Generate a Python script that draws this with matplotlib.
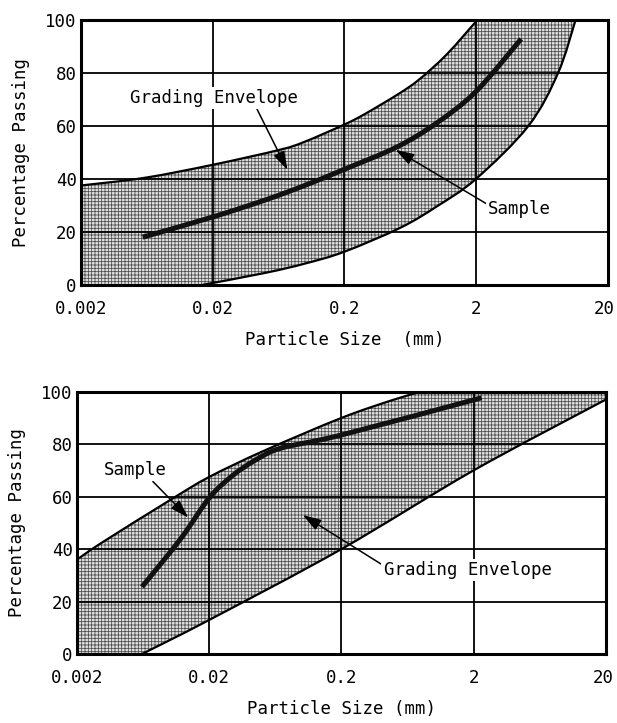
import matplotlib
matplotlib.use("Agg")
import matplotlib.pyplot as plt
from matplotlib.path import Path
from matplotlib.patches import PathPatch
import matplotlib.transforms as mtransforms
import numpy as np

plt.rcParams['font.family'] = ['DejaVu Sans Mono']
plt.rcParams['hatch.linewidth'] = 0.55

# ---- data: top chart ----
top_upper_x = [0.002, 0.0061, 0.02, 0.065, 0.1, 0.2, 0.287, 0.514, 0.74, 1.2, 2.05]
top_upper_y = [37.5, 40.4, 45.3, 51, 54, 60.5, 64.5, 72, 77.5, 87, 100]
top_lower_x = [0.0168, 0.05, 0.1, 0.2, 0.53, 1.0, 2.0, 5.0, 8.4, 11.4]
top_lower_y = [0, 4.5, 8, 12.5, 21.5, 29.5, 40, 60, 80, 100]
top_sample_x = [0.0059, 0.02, 0.05, 0.1, 0.2, 0.5, 1.0, 2.0, 4.4]
top_sample_y = [18, 25.6, 32, 37.5, 43.6, 52, 61, 73, 92.8]

# ---- data: bottom chart ----
bot_upper_x = [0.002, 0.00307, 0.0102, 0.02, 0.052, 0.2, 0.5, 0.8]
bot_upper_y = [36, 42.4, 58.8, 67.5, 77.5, 90, 97, 100]
bot_lower_x = [0.0062, 0.02, 0.2, 2.0, 20.0]
bot_lower_y = [0, 13, 40, 70, 97]
bot_sample_x = [0.0062, 0.0122, 0.02, 0.03, 0.045, 0.07, 0.2, 2.3]
bot_sample_y = [25.6, 44, 59.5, 68, 74, 78.5, 83.5, 97.7]

xticks = [0.002, 0.02, 0.2, 2, 20]
xticklabels = ["0.002", "0.02", "0.2", "2", "20"]
yticks = [0, 20, 40, 60, 80, 100]

FS = 12.5

fig = plt.figure(figsize=(6.17, 7.23), dpi=100)


def smooth_verts(xs, ys):
    """Cubic Bezier (Catmull-Rom) vertices through the read points, in log-x space."""
    P = np.column_stack([np.log10(xs), ys])
    n = len(P)
    verts = [P[0]]
    codes = [Path.MOVETO]
    for i in range(n - 1):
        p0 = P[max(i - 1, 0)]
        p1 = P[i]
        p2 = P[i + 1]
        p3 = P[min(i + 2, n - 1)]
        c1 = p1 + (p2 - p0) / 6.0
        c2 = p2 - (p3 - p1) / 6.0
        verts += [c1, c2, p2]
        codes += [Path.CURVE4] * 3
    V = np.array(verts)
    V[:, 0] = 10 ** V[:, 0]
    return V, codes


def curve_patch(xs, ys, **kw):
    V, C = smooth_verts(xs, ys)
    return PathPatch(Path(V, C), fill=False, **kw)


def make_axes(rect, ux, uy, lx, ly, sx, sy, corner, xlabel):
    ax = fig.add_axes(rect)
    ax.set_xscale('log')
    ax.set_xlim(0.002, 20)
    ax.set_ylim(0, 100)
    # envelope region: upper curve -> top-right corner(s) -> lower curve back -> bottom-left
    Vu, Cu = smooth_verts(ux, uy)
    Vl, Cl = smooth_verts(lx[::-1], ly[::-1])
    verts = list(Vu)
    codes = list(Cu)
    for c in corner:
        verts.append(c)
        codes.append(Path.LINETO)
    verts.append(Vl[0]); codes.append(Path.LINETO)
    verts += list(Vl[1:]); codes += list(Cl[1:])
    verts.append((0.002, 0)); codes.append(Path.LINETO)
    verts.append((0.002, 0)); codes.append(Path.CLOSEPOLY)
    ax.add_patch(PathPatch(Path(verts, codes), facecolor='#dedede',
                           edgecolor='#4a4a4a', hatch='+++++', linewidth=0,
                           zorder=1))
    ax.add_patch(curve_patch(ux, uy, edgecolor='black', lw=1.6, zorder=2))
    ax.add_patch(curve_patch(lx, ly, edgecolor='black', lw=1.6, zorder=2))
    ax.add_patch(curve_patch(sx, sy, edgecolor='#111111', lw=3.6,
                             capstyle='butt', zorder=3))
    ax.set_xticks(xticks)
    ax.set_xticklabels(xticklabels)
    ax.set_yticks(yticks)
    ax.xaxis.set_minor_locator(matplotlib.ticker.NullLocator())
    ax.tick_params(axis='both', length=0, labelsize=FS)
    ax.tick_params(axis='x', pad=11)
    ax.tick_params(axis='y', pad=3)
    ax.grid(True, color='black', lw=1.3)
    for s in ax.spines.values():
        s.set_linewidth(2.2)
    ax.set_xlabel(xlabel, fontsize=FS, labelpad=9)
    ax.set_ylabel("Percentage Passing", fontsize=FS, labelpad=11)
    # pull the last tick label slightly inward like the reference
    lab = ax.get_xticklabels()[-1]
    lab.set_transform(lab.get_transform() +
                      mtransforms.ScaledTranslation(-3 / 100, 0, fig.dpi_scale_trans))
    return ax


bbox = dict(facecolor='white', edgecolor='none', pad=1.5)
arrow = dict(arrowstyle='-|>,head_length=0.7,head_width=0.22', color='black',
             lw=1.1, mutation_scale=16, shrinkA=0, shrinkB=0)

ax1 = make_axes([0.131, 0.606, 0.854, 0.3665], top_upper_x, top_upper_y,
                top_lower_x, top_lower_y, top_sample_x, top_sample_y,
                [], "Particle Size  (mm)")
ax1.annotate("Grading Envelope", xy=(0.074, 43.4), xytext=(0.0205, 70.5),
             ha='center', va='center', fontsize=FS, bbox=bbox,
             arrowprops=dict(arrow, relpos=(0.75, 0.0)), zorder=5)
ax1.annotate("Sample", xy=(0.49, 51), xytext=(4.3, 28.5),
             ha='center', va='center', fontsize=FS, bbox=bbox,
             arrowprops=dict(arrow, relpos=(0.0, 0.75)), zorder=5)

ax2 = make_axes([0.1248, 0.0954, 0.857, 0.3628], bot_upper_x, bot_upper_y,
                bot_lower_x, bot_lower_y, bot_sample_x, bot_sample_y,
                [(20, 100)], "Particle Size (mm)")
ax2.annotate("Sample", xy=(0.0139, 52), xytext=(0.0055, 70),
             ha='center', va='center', fontsize=FS, bbox=bbox,
             arrowprops=dict(arrow, relpos=(0.75, 0.0)), zorder=5)
ax2.annotate("Grading Envelope", xy=(0.102, 53), xytext=(1.8, 32),
             ha='center', va='center', fontsize=FS, bbox=bbox,
             arrowprops=dict(arrow, relpos=(0.0, 0.75)), zorder=5)

fig.savefig("out.png", dpi=100)
